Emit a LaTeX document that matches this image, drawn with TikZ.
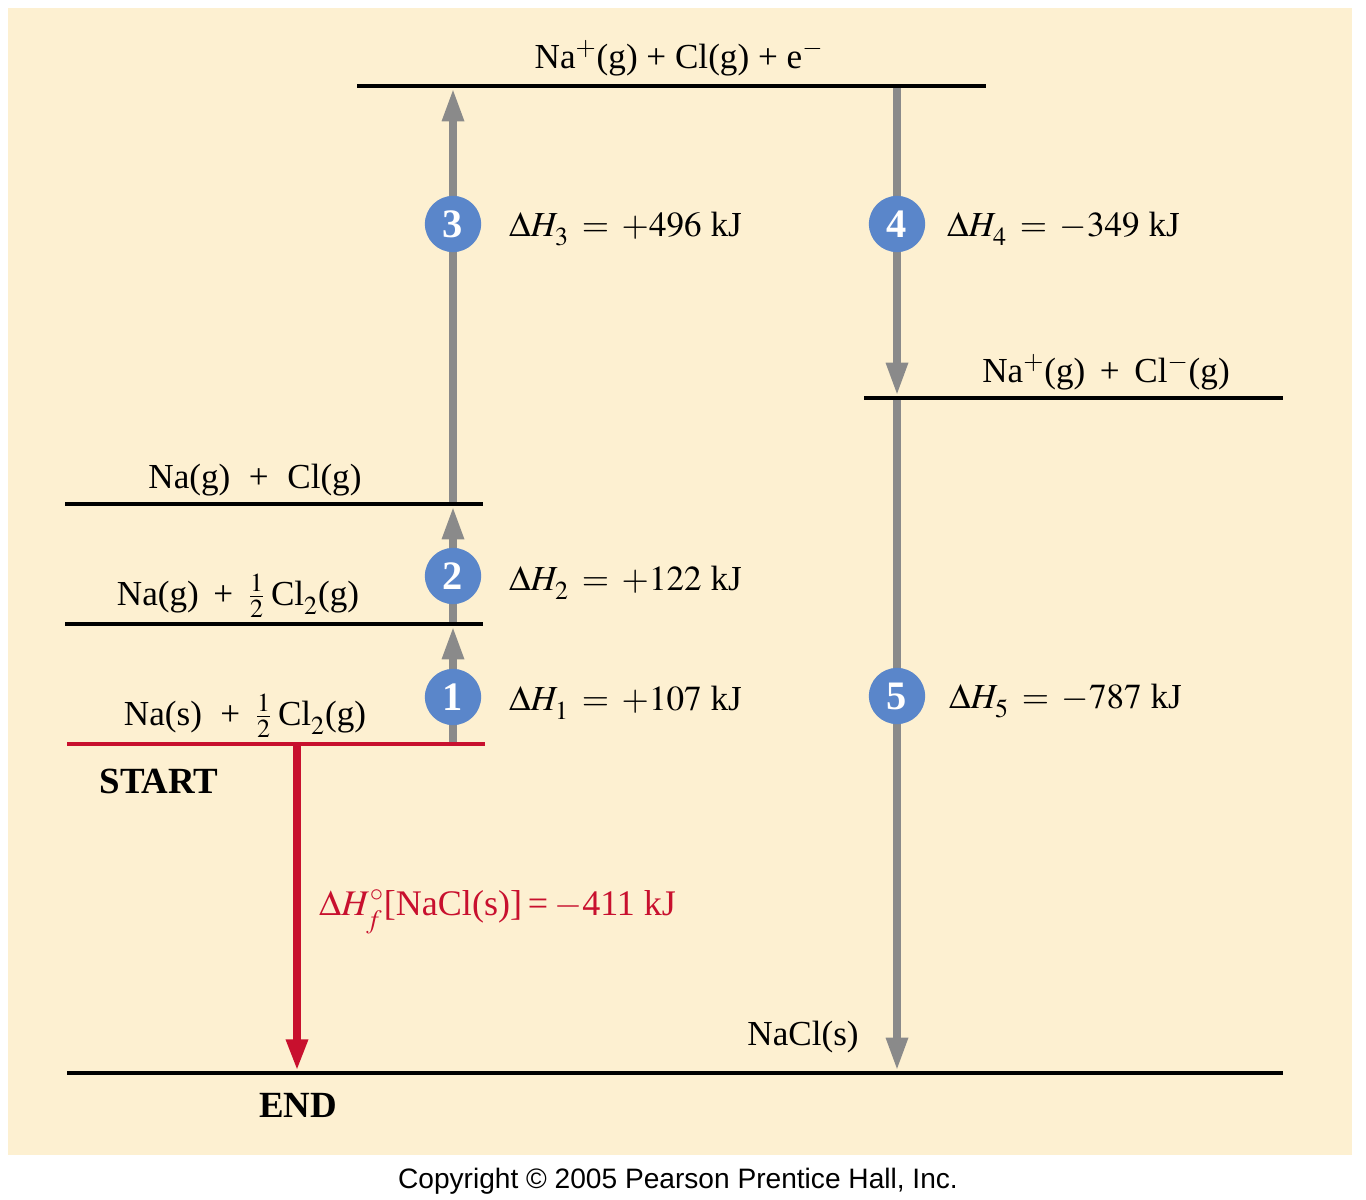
\documentclass[tikz,border=0pt]{standalone}
\usepackage{mathptmx}
\usepackage{fontspec}
\setmainfont{Liberation Serif}
\newfontfamily\copyfont{Liberation Sans}
\usetikzlibrary{arrows.meta}
\definecolor{paper}{HTML}{FDF0D1}
\definecolor{stepgray}{HTML}{8A8A8A}
\definecolor{stepblue}{HTML}{5A86CA}
\definecolor{formred}{HTML}{C8102E}
\newcommand{\dsub}[1]{_{\lower2.5pt\hbox{$\scriptstyle#1$}}}
\tikzset{
  enlevel/.style={line width=2pt, black},
  startlevel/.style={line width=2pt, formred},
  upstep/.style={line width=4.5pt, stepgray, -{Triangle[width=11.5pt,length=19pt]}},
  formation/.style={line width=4.5pt, formred, -{Triangle[width=11.5pt,length=18pt]}},
  stepnum/.style={circle, fill=stepblue, text=white, minimum size=32pt, inner sep=0pt,
    font=\fontsize{23}{23}\selectfont\bfseries},
  lvllabel/.style={anchor=base, font=\fontsize{20}{24}\selectfont},
  dhlabel/.style={anchor=base west, font=\fontsize{20}{24}\selectfont},
  tag/.style={anchor=base, font=\fontsize{21}{24}\selectfont\bfseries}
}
\begin{document}
\begin{tikzpicture}[x=0.02cm, y=-0.02cm]
\useasboundingbox (0,0) rectangle (1366,1200);
\fill[white] (0,0) rectangle (1366,1200);
\fill[paper] (8,8) rectangle (1352,1155);

% energy levels
\coordinate (L0a) at (67,744);   \coordinate (L0b) at (485,744);
\coordinate (L1a) at (65,624);   \coordinate (L1b) at (483,624);
\coordinate (L2a) at (65,504);   \coordinate (L2b) at (483,504);
\coordinate (L3a) at (357,86);   \coordinate (L3b) at (986,86);
\coordinate (L4a) at (864,398);  \coordinate (L4b) at (1283,398);
\coordinate (L5a) at (67,1073);  \coordinate (L5b) at (1283,1073);

% arrow ends
\coordinate (s0) at (453,744);
\coordinate (s1) at (453,626);
\coordinate (s1b) at (453,624);
\coordinate (s2) at (453,506);
\coordinate (s2b) at (453,504);
\coordinate (s3) at (453,88);
\coordinate (d3) at (897,86);
\coordinate (d4) at (897,396);
\coordinate (d4b) at (897,398);
\coordinate (d5) at (897,1071);
\coordinate (r0) at (297,744);
\coordinate (r5) at (297,1071);

\draw[upstep] (s0) -- (s1);
\draw[upstep] (s1b) -- (s2);
\draw[upstep] (s2b) -- (s3);
\draw[upstep] (d3) -- (d4);
\draw[upstep] (d4b) -- (d5);
\draw[formation] (r0) -- (r5);

\draw[startlevel] (L0a) -- (L0b);
\draw[enlevel] (L1a) -- (L1b);
\draw[enlevel] (L2a) -- (L2b);
\draw[enlevel] (L3a) -- (L3b);
\draw[enlevel] (L4a) -- (L4b);
\draw[enlevel] (L5a) -- (L5b);

\node[lvllabel] (top) at (679,68) {Na$^+$(g) + Cl(g) + e$^-$};
\node[lvllabel] (ions) at (1106,382) {Na$^+$(g) \,+\, Cl$^-$(g)};
\node[lvllabel] (atoms) at (255,488) {Na(g) \;+\; Cl(g)};
\node[lvllabel] (half) at (238,605) {Na(g) \,+\, $\frac{1}{2}$\,Cl$\dsub{2}$(g)};
\node[lvllabel] (elem) at (245,725) {Na(s) \;+\, $\frac{1}{2}$\,Cl$\dsub{2}$(g)};
\node[lvllabel] (salt) at (803,1045) {NaCl(s)};
\node[tag] (start) at (159,793) {START};
\node[tag] (end) at (298,1117) {END};

\node[stepnum] (n1) at (453,697) {1};
\node[stepnum] (n2) at (453,576) {2};
\node[stepnum] (n3) at (453,224) {3};
\node[stepnum] (n4) at (897,224) {4};
\node[stepnum] (n5) at (897,696) {5};

\node[dhlabel] (h1) at (503,710) {$\Delta H\dsub{1}\:=\:+107$ kJ};
\node[dhlabel] (h2) at (503,590) {$\Delta H\dsub{2}\:=\:+122$ kJ};
\node[dhlabel] (h3) at (503,236) {$\Delta H\dsub{3}\:=\:+496$ kJ};
\node[dhlabel] (h4) at (941,236) {$\Delta H\dsub{4}\:=\:-349$ kJ};
\node[dhlabel] (h5) at (943,708) {$\Delta H\dsub{5}\:=\:-787$ kJ};
\node[dhlabel, text=formred, font=\fontsize{20.5}{24}\selectfont] (hf) at (313,915)
  {$\Delta H^{\circ}\dsub{f}$[NaCl(s)]\,=\,$-$411 kJ};

\node[anchor=base, font=\copyfont\fontsize{16}{18}\selectfont] (copy) at (678,1188)
  {Copyright \textcopyright\ 2005 Pearson Prentice Hall, Inc.};
\end{tikzpicture}
\end{document}
